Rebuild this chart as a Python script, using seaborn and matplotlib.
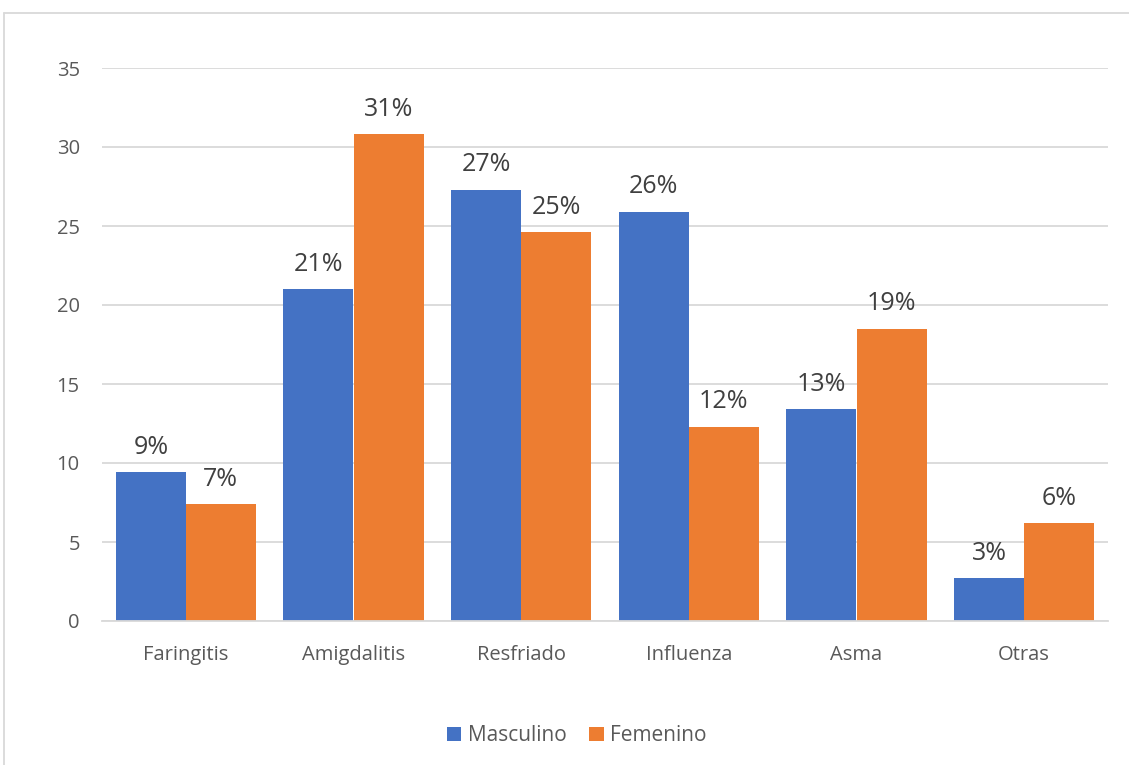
import pandas as pd
import matplotlib.pyplot as plt
import seaborn as sns
from matplotlib.lines import Line2D

# Data
categorias = ['Faringitis', 'Amigdalitis', 'Resfriado', 'Influenza', 'Asma', 'Otras']
masculino = [9.4, 21.0, 27.3, 25.9, 13.4, 2.7]
femenino = [7.4, 30.8, 24.6, 12.3, 18.5, 6.2]
etiquetas_m = ['9%', '21%', '27%', '26%', '13%', '3%']
etiquetas_f = ['7%', '31%', '25%', '12%', '19%', '6%']

df = pd.DataFrame({
    'categoria': categorias * 2,
    'valor': masculino + femenino,
    'sexo': ['Masculino'] * len(categorias) + ['Femenino'] * len(categorias),
})

sns.set_style('white')
plt.rcParams['font.family'] = ['Open Sans', 'DejaVu Sans']

fig = plt.figure(figsize=(11.29, 7.65), dpi=100)
ax = fig.add_axes([102 / 1129, 1 - 621 / 765, (1108 - 102) / 1129, (621 - 68) / 765])

sns.barplot(data=df, x='categoria', y='valor', hue='sexo', ax=ax,
            palette={'Masculino': '#4472C4', 'Femenino': '#ED7D31'},
            width=0.835, saturation=1, gap=0, linewidth=0, legend=True)

ax.set_ylim(0, 35)
ax.set_yticks(range(0, 36, 5))
ax.set_xlim(-0.5, len(categorias) - 0.5)
ax.yaxis.grid(True, color='#D9D9D9', linewidth=1.3)
ax.set_axisbelow(True)
for s in ['top', 'right', 'left']:
    ax.spines[s].set_visible(False)
ax.spines['bottom'].set_color('#D9D9D9')
ax.spines['bottom'].set_linewidth(1.3)
ax.tick_params(axis='both', length=0, labelsize=14.5, labelcolor='#595959')
ax.tick_params(axis='x', pad=17)
ax.tick_params(axis='y', pad=16)
ax.set_xlabel('')
ax.set_ylabel('')

# data labels
for cont, labs in zip(ax.containers, [etiquetas_m, etiquetas_f]):
    ax.bar_label(cont, labels=labs, padding=9, fontsize=18, color='#404040')

leg = ax.legend(loc='upper center', bbox_to_anchor=(0.472, -0.155), ncol=2, frameon=False,
                fontsize=15, handlelength=0.7, handleheight=0.7, handletextpad=0.3,
                columnspacing=1.1)
for t in leg.get_texts():
    t.set_color('#595959')

# chart border
fig.add_artist(Line2D([4 / 1129, 1], [1 - 12.5 / 765, 1 - 12.5 / 765], color='#D9D9D9', lw=1.3))
fig.add_artist(Line2D([4 / 1129, 4 / 1129], [0, 1 - 12.5 / 765], color='#D9D9D9', lw=1.3))

fig.savefig('out.png', dpi=100)
